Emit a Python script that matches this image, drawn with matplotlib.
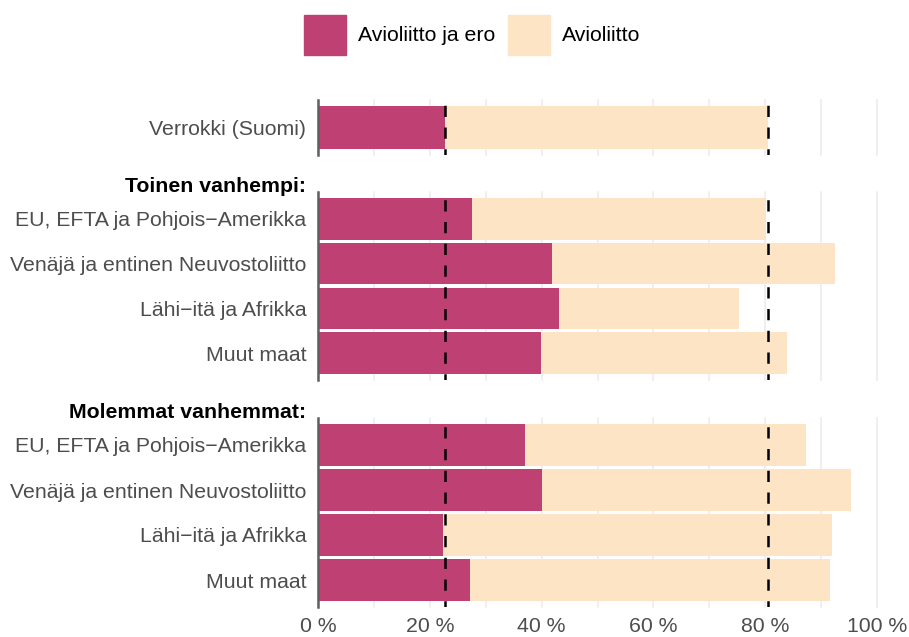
import matplotlib
matplotlib.use("Agg")
import matplotlib.pyplot as plt
from matplotlib.patches import Patch

plt.rcParams['font.family'] = ['Liberation Sans', 'DejaVu Sans']

# arvot prosentteina
verrokki_label = ["Verrokki (Suomi)"]
verrokki_ero = [22.7]
verrokki_avio = [80.5]

alueet = ["EU, EFTA ja Pohjois\u2212Amerikka", "Venäjä ja entinen Neuvostoliitto",
          "Lähi\u2212itä ja Afrikka", "Muut maat"]
toinen_ero = [27.5, 41.9, 43.1, 39.9]
toinen_avio = [80.2, 92.5, 75.3, 83.9]
molemmat_ero = [37.0, 40.0, 22.4, 27.2]
molemmat_avio = [87.3, 95.4, 91.9, 91.6]

ryhmat = ["", "Toinen vanhempi:", "Molemmat vanhemmat:"]
xticks = [0, 20, 40, 60, 80, 100]
xticklabels = ["0 %", "20 %", "40 %", "60 %", "80 %", "100 %"]

PINK = "#BF4072"
BEIGE = "#FCE4C4"
GRID = "#EBEBEB"
TXT = "#4D4D4D"
FS = 15.3

W, H = 909, 637
fig = plt.figure(figsize=(W / 100, H / 100), dpi=100)

# paneelien paikat pikseleina (ylä, ala)
paneelit = [(100, 155), (192, 380), (418, 607)]
data = [(verrokki_label, verrokki_ero, verrokki_avio),
        (alueet, toinen_ero, toinen_avio),
        (alueet, molemmat_ero, molemmat_avio)]
left_px, right_px = 318, 880

for i, ((top, bot), (labels, ero, avio)) in enumerate(zip(paneelit, data)):
    ax = fig.add_axes([left_px / W, 1 - bot / H, (right_px - left_px) / W, (bot - top) / H])
    n = len(labels)
    y = list(range(1, n + 1))
    for x in range(0, 101, 10):
        ax.axvline(x, color=GRID, lw=1.1, zorder=0, clip_on=False)
    ax.barh(y, avio, height=0.93, color=BEIGE, zorder=1)
    ax.barh(y, ero, height=0.93, color=PINK, zorder=2)
    ax.axvline(verrokki_ero[0], color="black", lw=1.8, ls=(2, (4.5, 4.2)), zorder=3)
    ax.axvline(verrokki_avio[0], color="black", lw=1.8, ls=(2, (4.5, 4.2)), zorder=3)
    ax.set_ylim(n + 0.6, 0.4)
    ax.set_xlim(0, 100 * (right_px - left_px) / (877 - left_px))
    ax.set_yticks(y)
    ax.set_yticklabels(labels, fontsize=FS, color=TXT)
    ax.tick_params(axis="y", length=0, pad=8.5)
    ax.set_xticks(xticks)
    if i == 2:
        ax.set_xticklabels(xticklabels, fontsize=FS, color=TXT)
    else:
        ax.set_xticklabels([])
    ax.tick_params(axis="x", length=0, pad=7.3)
    for s in ["top", "right", "bottom"]:
        ax.spines[s].set_visible(False)
    ax.spines["left"].set_color("#5F5F5F")
    ax.spines["left"].set_linewidth(1.8)
    ax.spines["left"].set_zorder(4)
    if ryhmat[i]:
        fig.text(306 / W, 1 - (top - 5) / H, ryhmat[i], ha="right", va="center",
                 fontsize=FS, fontweight="bold", color="black")

handles = [Patch(color=PINK), Patch(color=BEIGE)]
fig.legend(handles, ["Avioliitto ja ero", "Avioliitto"], loc="center",
           bbox_to_anchor=(472 / W, 1 - 35 / H), ncol=2, frameon=False, fontsize=FS,
           handlelength=2.0, handleheight=2.55, handletextpad=0.55, columnspacing=0.6)

fig.savefig("out.png", dpi=100)
